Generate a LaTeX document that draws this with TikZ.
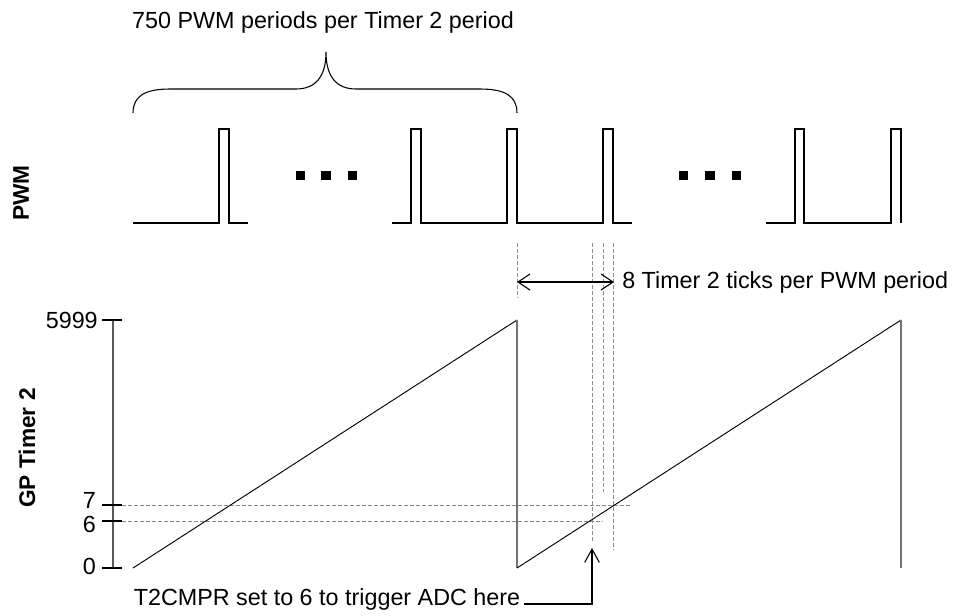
\documentclass[tikz,border=0pt]{standalone}
\usepackage{fontspec}
\setmainfont{Liberation Sans}
\usetikzlibrary{arrows.meta}
\begin{document}
\begin{tikzpicture}[x=0.75pt,y=-0.75pt,
  wave/.style={line width=1.3pt,black,line join=miter},
  ramp/.style={line width=0.7pt,black},
  drop/.style={line width=1.2pt,black!55},
  axisline/.style={line width=0.8pt,black!65},
  tick/.style={line width=0.8pt,black},
  guide/.style={line width=0.7pt,black!45,dash pattern=on 3pt off 1.5pt},
  lbl/.style={font=\fontsize{17.5pt}{21pt}\selectfont,inner sep=0pt},
  side/.style={font=\fontsize{17pt}{20pt}\selectfont\bfseries,inner sep=0pt,rotate=90},
  dot/.style={fill=black,draw=none,minimum size=7pt,inner sep=0pt},
  dim/.style={line width=0.8pt,black,{Straight Barb[length=9pt,width=12pt]}-{Straight Barb[length=9pt,width=12pt]}},
  pointer/.style={line width=0.8pt,black,-{Straight Barb[length=10pt,width=11pt]}}]
\useasboundingbox (0,0) rectangle (962,615);

% row labels
\node[side] (pwmlbl) at (21,193) {PWM};
\node[side] (gplbl) at (27,448) {GP Timer 2};

% brace over the first Timer 2 period
\node[lbl] (bracetxt) at (323,22) {750 PWM periods per Timer 2 period};
\draw[line width=0.8pt] (133,113) .. controls (133,96) and (145,89) .. (170,89) -- (296,89)
  .. controls (316,89) and (326,76) .. (326,52)
  .. controls (326,76) and (336,89) .. (356,89) -- (480,89)
  .. controls (505,89) and (517,96) .. (517,113);

% PWM waveform
\draw[wave] (133,223) -- (219,223) -- (219,129) -- (229,129) -- (229,223) -- (248,223);
\draw[wave] (392,223) -- (411,223) -- (411,129) -- (421,129) -- (421,223)
  -- (507,223) -- (507,129) -- (517,129) -- (517,223)
  -- (603,223) -- (603,129) -- (613,129) -- (613,223) -- (632,223);
\draw[wave] (766,223) -- (795,223) -- (795,129) -- (804,129) -- (804,223)
  -- (891,223) -- (891,129) -- (901,129) -- (901,223);
\foreach \i/\dx in {a/300.5,b/326,c/352.5}
  \node[dot] (dl\i) at (\dx,175.5) {};
\foreach \i/\dx in {a/683.5,b/710,c/736.5}
  \node[dot] (dr\i) at (\dx,175.5) {};

% Timer 2 axis, ticks and values
\draw[axisline] (113,320) -- (113,568);
\foreach \yy in {320,505,521,568}
  \draw[tick] (102,\yy) -- (122,\yy);
\node[lbl,anchor=east] (v5999) at (98,320) {5999};
\node[lbl,anchor=east] (v7) at (96,500) {7};
\node[lbl,anchor=east] (v6) at (96,524) {6};
\node[lbl,anchor=east] (v0) at (96,566) {0};

% guide lines
\draw[guide] (122,505) -- (632,505);
\draw[guide] (122,521) -- (603,521);
\draw[guide] (517,243) -- (517,298);
\draw[guide] (592,243) -- (592,543);
\draw[guide] (603,243) -- (603,492);
\draw[guide] (613,243) -- (613,550);

% sawtooth
\draw[ramp] (133,568) -- (517,320);
\draw[drop] (517,320) -- (517,568);
\draw[ramp] (517,568) -- (901,320);
\draw[drop] (901,320) -- (901,568);

% PWM period in Timer 2 ticks
\coordinate (pl) at (517,282);
\coordinate (pr) at (614,282);
\draw[dim] (pl) -- (pr);
\node[lbl,anchor=west] (ticktxt) at (622,282) {8 Timer 2 ticks per PWM period};

% compare point
\node[lbl] (cmptxt) at (327,599) {T2CMPR set to 6 to trigger ADC here};
\coordinate (cmp) at (592,548);
\draw[pointer] (cmptxt.east |- 0,604) ++(4,0) -| (cmp);
\end{tikzpicture}
\end{document}
